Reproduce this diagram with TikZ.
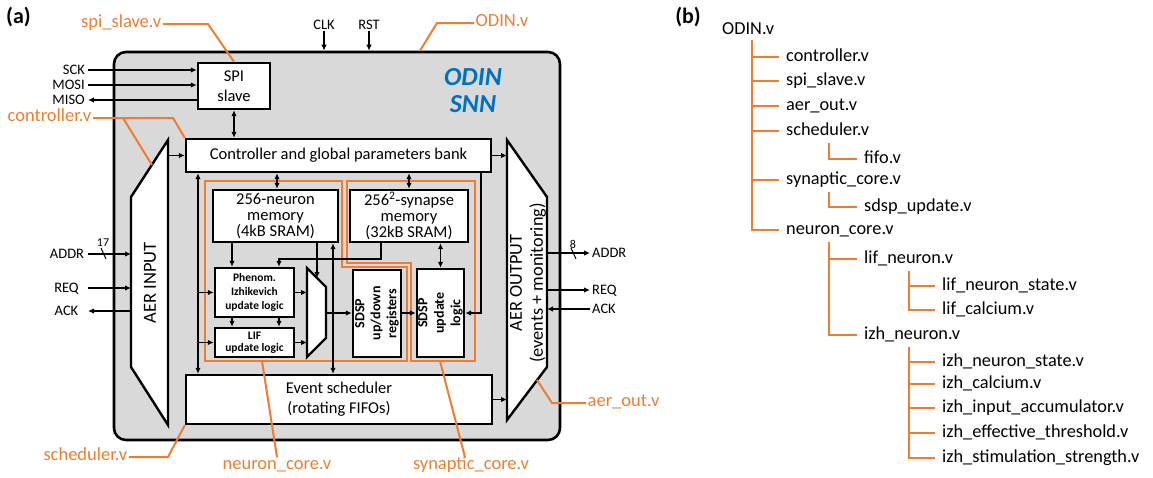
\documentclass[tikz,border=0pt]{standalone}
\usepackage{fontspec}
\setmainfont{Carlito}
\usetikzlibrary{arrows.meta}
\definecolor{org}{HTML}{ED7D31}
\definecolor{odblue}{HTML}{0070C0}
\definecolor{gbg}{HTML}{D9D9D9}
\begin{document}
\begin{tikzpicture}[x=1pt,y=-1pt,
  blk/.style={draw, fill=white, line width=2.4pt, inner sep=0pt, align=center, font=\fontsize{16.5}{16}\selectfont},
  sblk/.style={blk, font=\bfseries\fontsize{11.5}{14}\selectfont},
  vtext/.style={rotate=90, align=center, inner sep=0pt},
  arr/.style={line width=1.8pt, -{Latex[length=6pt,width=5.5pt]}},
  darr/.style={line width=1.8pt, {Latex[length=6pt,width=5.5pt]}-{Latex[length=6pt,width=5.5pt]}},
  sig/.style={font=\fontsize{14.5}{14}\selectfont, inner sep=1pt, text height=9pt, text depth=0pt},
  olab/.style={text=org, font=\fontsize{18.5}{18}\selectfont, inner sep=1.5pt, text height=10pt, text depth=4pt},
  oline/.style={draw=org, line width=2pt},
  tnode/.style={font=\fontsize{18.3}{18}\selectfont, anchor=west, inner xsep=7pt, inner ysep=3pt, text height=13pt, text depth=4pt},
  tline/.style={draw=org, line width=2.5pt},
  trap/.style={draw, fill=white, line width=2.4pt, line join=miter},
]
\useasboundingbox (0,0) rectangle (1153,477);

% panel labels
\node[font=\bfseries\fontsize{22}{22}\selectfont, anchor=west, inner sep=0pt] (la) at (6,17) {(a)};
\node[font=\bfseries\fontsize{22}{22}\selectfont, anchor=east, inner sep=0pt] (lb) at (701,17) {(b)};

% main box
\node[draw, fill=gbg, rounded corners=12pt, line width=2.6pt, minimum width=446pt, minimum height=388pt, inner sep=0pt] (odin) at (337,246) {};
\node[text=odblue, font=\bfseries\itshape\fontsize{26}{27}\selectfont, align=center, inner sep=0pt] (snn) at (473,91) {ODIN\\SNN};

% orange core outlines
\coordinate (nc1) at (205,181);
\coordinate (ncb) at (262,361);
\draw[oline] (nc1) -- (342,181) -- (342,267) -- (407,267) -- (407,361) -- (205,361) -- cycle;
\coordinate (scb) at (440,361);
\draw[oline] (347,181) -- (475,181) -- (475,361) -- (411,361) -- (411,263) -- (347,263) -- cycle;

% AER input / output trapezoids
\coordinate (ai1) at (168,140); \coordinate (ai2) at (131,197);
\coordinate (ai3) at (131,367); \coordinate (ai4) at (168,425);
\draw[trap] (ai1) -- (ai2) -- (ai3) -- (ai4) -- cycle;
\node[vtext, font=\fontsize{18.5}{20}\selectfont] (ain) at (150,283) {AER INPUT};
\coordinate (ao1) at (507,140); \coordinate (ao2) at (547,197);
\coordinate (ao3) at (547,367); \coordinate (ao4) at (507,420);
\draw[trap] (ao1) -- (ao2) -- (ao3) -- (ao4) -- cycle;
\node[vtext, font=\fontsize{18.3}{21}\selectfont] (aout) at (528,283) {AER OUTPUT\\(events + monitoring)};

% blocks
\node[blk, minimum width=72pt, minimum height=46pt, font=\fontsize{16.5}{20}\selectfont] (spi) at (234,86) {SPI\\slave};
\node[blk, minimum width=305pt, minimum height=33pt] (ctrl) at (338.5,155.5) {Controller and global parameters bank};
\node[blk, minimum width=125pt, minimum height=52pt] (nmem) at (275.5,216) {256-neuron\\memory\\(4kB SRAM)};
\node[blk, minimum width=118pt, minimum height=52pt] (smem) at (409,216) {256\textsuperscript{2}-synapse\\memory\\(32kB SRAM)};
\node[sblk, minimum width=79pt, minimum height=49pt] (phen) at (254.5,292.5) {Phenom.\\Izhikevich\\update logic};
\node[sblk, minimum width=79pt, minimum height=29pt, font=\bfseries\fontsize{11.5}{11.5}\selectfont] (lif) at (254.5,342.5) {LIF\\update logic};
\node[blk, minimum width=48pt, minimum height=87pt] (reg) at (377,313.5) {};
\node[vtext, font=\bfseries\fontsize{14}{16}\selectfont] (regt) at (reg.center) {SDSP\\up/down\\registers};
\node[blk, minimum width=47pt, minimum height=88pt] (upd) at (440.5,313) {};
\node[vtext, font=\bfseries\fontsize{14}{16.5}\selectfont] (updt) at (upd.center) {SDSP\\update\\logic};
\node[blk, minimum width=306pt, minimum height=49pt, font=\fontsize{16.5}{20}\selectfont] (sched) at (339,399.5) {Event scheduler\\(rotating FIFOs)};

% mux
\coordinate (m1) at (307,268); \coordinate (m2) at (326,287);
\coordinate (m3) at (326,338); \coordinate (m4) at (307,357);
\draw[trap] (m1) -- (m2) -- (m3) -- (m4) -- cycle;
\coordinate (mo) at (326,313);
\coordinate (mt) at (317,278);

% external signals left
\coordinate (sx) at (88,0);
\node[sig, anchor=east] (sck) at (86,70) {SCK};
\node[sig, anchor=east] (mosi) at (86,85) {MOSI};
\node[sig, anchor=east] (miso) at (86,100) {MISO};
\draw[arr] (sx |- sck) -- (spi.west |- sck);
\draw[arr] (sx |- mosi) -- (spi.west |- mosi);
\draw[arr] (spi.west |- miso) -- (sx |- miso);
\node[sig] (addri) at (67,254) {ADDR};
\node[sig] (reqi) at (66.5,288) {REQ};
\node[sig] (acki) at (66.5,311) {ACK};
\draw[arr] (sx |- addri) -- (ai2 |- addri);
\draw[arr] (sx |- reqi) -- (ai2 |- reqi);
\draw[arr] (ai2 |- acki) -- (sx |- acki);
\node[font=\fontsize{12}{12}\selectfont, inner sep=0pt] (n17) at (103,243) {17};
\draw[line width=1pt] (101,248) -- (106,259);

% top signals
\node[sig] (clk) at (324,25) {CLK};
\node[sig] (rst) at (369,25) {RST};
\draw[arr] (clk.south) -- (clk.south |- odin.north);
\draw[arr] (rst.south) -- (rst.south |- odin.north);

% right signals
\coordinate (ox) at (590,0);
\node[sig, anchor=west] (addro) at (591,253) {ADDR};
\node[sig, anchor=west] (reqo) at (591,290) {REQ};
\node[sig, anchor=west] (acko) at (591,309) {ACK};
\draw[arr] (ao2 |- addro) -- (ox |- addro);
\draw[arr] (ao2 |- reqo) -- (ox |- reqo);
\draw[arr] (ox |- acko) -- (ao2 |- acko);
\node[font=\fontsize{12}{12}\selectfont, inner sep=0pt] (n8) at (573,244) {8};
\draw[line width=1pt] (571,248) -- (576,259);

% internal connections
\draw[darr] (spi.south) -- (spi.south |- ctrl.north);
\draw[arr] (ai1 |- ctrl.west) -- (ctrl.west);
\draw[arr] (ctrl.east) -- (ctrl.east -| ao1);
\draw[arr] (sched.east) -- (sched.east -| ao1);
\coordinate (cn) at (277,180);
\draw[darr] (ctrl.south -| cn) -- (nmem.north -| cn);
\draw[darr] (ctrl.south -| smem.north) -- (smem.north);
\coordinate (bl) at (198,300);
\draw[darr] (ctrl.south -| bl) -- (sched.north -| bl);
\draw[arr] (bl |- phen.west) -- (phen.west);
\draw[arr] (bl |- lif.west) -- (lif.west);
\coordinate (bm) at (333,300);
\draw[darr] (nmem.south -| bm) -- (sched.north -| bm);
\coordinate (nx) at (232,250);
\coordinate (sp1) at (381,259); \coordinate (sp2) at (279,259);
\draw[arr] (nmem.south -| nx) -- (phen.north -| nx);
\draw[arr] (smem.south -| sp1) -- (sp1) -- (sp2) -- (phen.north -| sp2);
\draw[arr] (phen.south -| nx) -- (lif.north -| nx);
\draw[arr] (phen.south -| sp2) -- (lif.north -| sp2);
\draw[arr] (nmem.south -| mt) -- (mt);
\draw[arr] (phen.east) -- (phen.east -| m1);
\draw[arr] (lif.east) -- (lif.east -| m1);
\draw[arr] (mo) -- (reg.west |- mo);
\draw[arr] (reg.east |- mo) -- (upd.west |- mo);
\draw[darr] (smem.south -| upd.north) -- (upd.north);
\coordinate (br) at (481,313);
\draw[arr] (ctrl.south -| br) -- (br) -- (upd.east |- br);

% orange file labels
\node[olab, anchor=east] (lspi) at (163,24) {spi\_slave.v};
\draw[oline] (lspi.east) -- (208,24) -- (spi.north);
\node[olab, anchor=east] (lctrl) at (93,118) {controller.v};
\coordinate (cb) at (123,118); \coordinate (cA) at (152,165);
\draw[oline] (lctrl.east) -- (173,118) -- (ctrl.north west);
\draw[oline] (cb) -- (cA);
\node[olab, anchor=west] (lodin) at (474,23) {ODIN.v};
\draw[oline] (lodin.west) -- (437,23) -- (odin.north -| 420,0);
\node[olab, anchor=west] (laer) at (586,403) {aer\_out.v};
\draw[oline] (laer.west) -- (552,403) -- (537,380);
\node[olab, anchor=east] (lsch) at (129,457) {scheduler.v};
\draw[oline] (lsch.east) -- (168,457) -- (sched.south west);
\node[olab] (lnc) at (277,466) {neuron\_core.v};
\draw[oline] (ncb) -- (lnc.north);
\node[olab] (lsc) at (471,466) {synaptic\_core.v};
\draw[oline] (scb) -- ([xshift=-6pt]lsc.north);

% tree (b)
\node[font=\fontsize{18.3}{18}\selectfont, anchor=base west, inner sep=0pt] (tODIN) at (722,34) {ODIN.v};
\node[tnode] (tctrl) at (779,57) {controller.v};
\node[tnode] (tspi) at (779,81) {spi\_slave.v};
\node[tnode] (taer) at (779,106) {aer\_out.v};
\node[tnode] (tsch) at (779,131) {scheduler.v};
\node[tnode] (tfifo) at (857,159) {fifo.v};
\node[tnode] (tsyn) at (779,180) {synaptic\_core.v};
\node[tnode] (tsdsp) at (857,207) {sdsp\_update.v};
\node[tnode] (tnc) at (779,230) {neuron\_core.v};
\node[tnode] (tlif) at (857,259) {lif\_neuron.v};
\node[tnode] (tlifs) at (935,286) {lif\_neuron\_state.v};
\node[tnode] (tlifc) at (935,310) {lif\_calcium.v};
\node[tnode] (tizh) at (857,335) {izh\_neuron.v};
\node[tnode] (tizs) at (935,362) {izh\_neuron\_state.v};
\node[tnode] (tizc) at (935,384) {izh\_calcium.v};
\node[tnode] (tiza) at (935,408) {izh\_input\_accumulator.v};
\node[tnode] (tize) at (935,433) {izh\_effective\_threshold.v};
\node[tnode] (tizst) at (935,458) {izh\_stimulation\_strength.v};

\coordinate (t1) at (752,0); \coordinate (t2) at (829,0); \coordinate (t3) at (909,0);
\draw[tline] (t1 |- 0,40) |- (tnc.west);
\foreach \n in {tctrl,tspi,taer,tsch,tsyn} \draw[tline] (t1 |- \n.west) -- (\n.west);
\draw[tline] (tsch.south -| t2) |- (tfifo.west);
\draw[tline] (tsyn.south -| t2) |- (tsdsp.west);
\draw[tline] (tnc.south -| t2) |- (tizh.west);
\draw[tline] (t2 |- tlif.west) -- (tlif.west);
\draw[tline] (tlif.south -| t3) |- (tlifc.west);
\draw[tline] (t3 |- tlifs.west) -- (tlifs.west);
\draw[tline] (tizh.south -| t3) |- (tizst.west);
\foreach \n in {tizs,tizc,tiza,tize} \draw[tline] (t3 |- \n.west) -- (\n.west);
\end{tikzpicture}
\end{document}
